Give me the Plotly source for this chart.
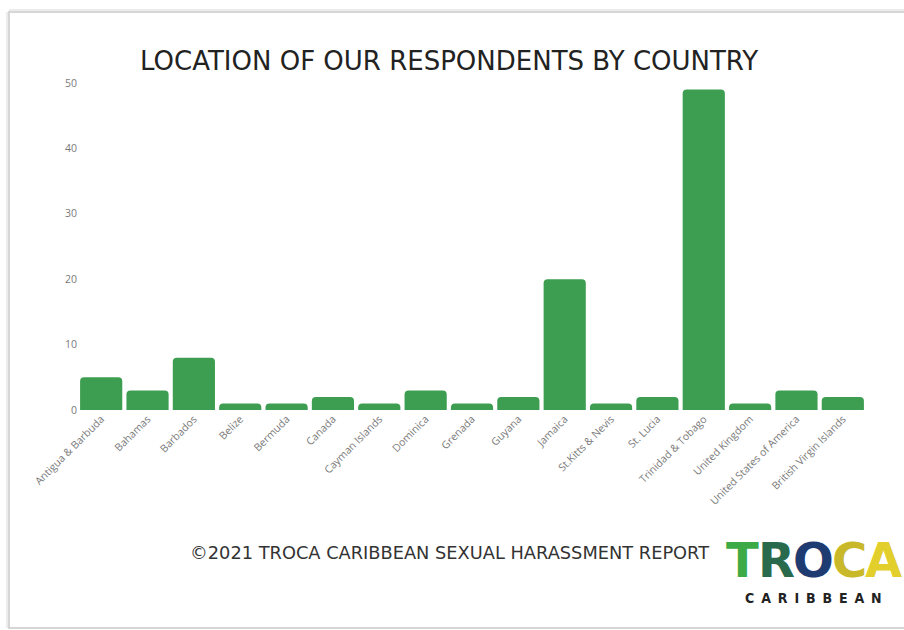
import plotly.graph_objects as go

countries = [
    "Antigua & Barbuda", "Bahamas", "Barbados", "Belize", "Bermuda", "Canada",
    "Cayman Islands", "Dominica", "Grenada", "Guyana", "Jamaica", "St.Kitts & Nevis",
    "St. Lucia", "Trinidad & Tobago", "United Kingdom", "United States of America",
    "British Virgin Islands",
]
respondents = [5, 3, 8, 1, 1, 2, 1, 3, 1, 2, 20, 1, 2, 49, 1, 3, 2]
y_ticks = [0, 10, 20, 30, 40, 50]

W, H = 904, 630
L, R, T, B = 78, 38, 83, 220
PW, PH = W - L - R, H - T - B


def px(x):
    return (x - L) / PW


def py(y):
    return (H - B - y) / PH


fig = go.Figure(go.Bar(
    x=countries,
    y=respondents,
    marker=dict(color="#3d9e52", cornerradius=4, line=dict(width=0)),
))

shapes = [
    # card frame
    dict(type="rect", xref="paper", yref="paper",
         x0=px(9), x1=px(912), y0=py(628), y1=py(12),
         line=dict(color="#d6d6d6", width=2), fillcolor="rgba(0,0,0,0)",
         layer="below"),
    dict(type="line", xref="paper", yref="paper",
         x0=px(7), x1=px(7), y0=py(628), y1=py(12),
         line=dict(color="#ececec", width=2), layer="below"),
    dict(type="line", xref="paper", yref="paper",
         x0=px(9), x1=px(912), y0=py(10), y1=py(10),
         line=dict(color="#ececec", width=2), layer="below"),
]

annotations = [
    dict(text="LOCATION OF OUR RESPONDENTS BY COUNTRY", xref="paper", yref="paper",
         x=px(449), y=py(61), showarrow=False, xanchor="center", yanchor="middle",
         font=dict(family="DejaVu Sans", size=26, color="#222222")),
    dict(text="©2021 TROCA CARIBBEAN SEXUAL HARASSMENT REPORT", xref="paper", yref="paper",
         x=px(449), y=py(552), showarrow=False, xanchor="center", yanchor="middle",
         font=dict(family="DejaVu Sans", size=17.8, color="#333333")),
    dict(text="C\u2009 A\u2009 R\u2009 I\u2009 B\u2009 B\u2009 E\u2009 A\u2009 N",
         xref="paper", yref="paper",
         x=px(813), y=py(598), showarrow=False, xanchor="center", yanchor="middle",
         font=dict(family="DejaVu Sans Condensed", size=14, color="#222222", weight="bold")),
]

# TROCA wordmark, one letter at a time
logo_letters = ["T", "R", "O", "C", "A"]
logo_colors = ["#3daa48", "#2a6a4c", "#1f3c72", "#c9b92a", "#e2cf2c"]
logo_x = [742, 776, 813, 849, 883]
for ch, col, lx in zip(logo_letters, logo_colors, logo_x):
    annotations.append(dict(
        text=ch, xref="paper", yref="paper", x=px(lx), y=py(560),
        showarrow=False, xanchor="center", yanchor="middle",
        font=dict(family="DejaVu Sans", size=48, color=col, weight="bold")))

fig.update_layout(
    width=W, height=H,
    margin=dict(l=L, r=R, t=T, b=B),
    paper_bgcolor="white", plot_bgcolor="white",
    showlegend=False,
    bargap=0.09,
    shapes=shapes,
    annotations=annotations,
    xaxis=dict(
        tickangle=-45, showgrid=False, zeroline=False, showline=False,
        ticks="", tickfont=dict(family="Open Sans", size=10.5, color="#7a7a7a"),
        range=[-0.5, len(countries) - 0.5], fixedrange=True,
    ),
    yaxis=dict(
        range=[0, 50], tickvals=y_ticks, showgrid=False, zeroline=False,
        showline=False, ticks="",
        tickfont=dict(family="Open Sans", size=10.5, color="#7a7a7a"),
        fixedrange=True,
    ),
)

fig.write_html("out.html")
